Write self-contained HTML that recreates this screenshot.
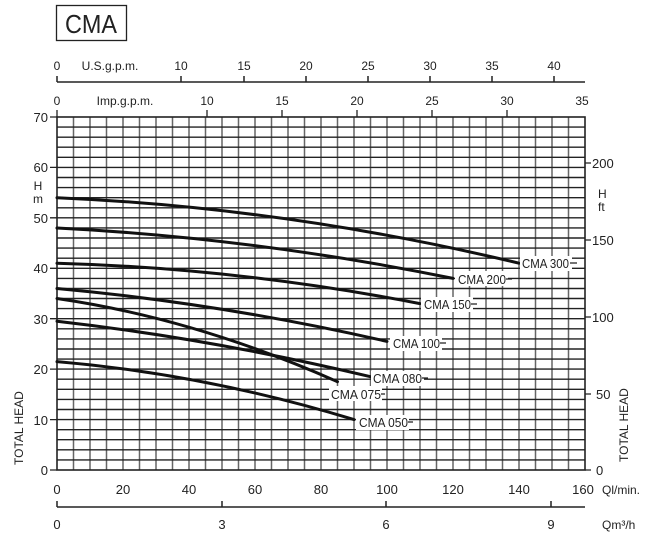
<!DOCTYPE html>
<html><head><meta charset="utf-8"><style>
html,body{margin:0;padding:0;background:#fff;}
svg{display:block;font-family:"Liberation Sans",sans-serif;}
</style></head><body>
<svg width="649" height="536" viewBox="0 0 649 536" xmlns="http://www.w3.org/2000/svg">
<rect x="56.5" y="5.5" width="70" height="35" fill="none" stroke="#222" stroke-width="1.3"/>
<text x="91" y="33" font-size="26" text-anchor="middle" fill="#222" textLength="52" lengthAdjust="spacingAndGlyphs">CMA</text>
<!-- US gpm axis -->
<path d="M57 82H585M57 76V82M181 76V82M244 76V82M306 76V82M368 76V82M430 76V82M492 76V82M554 76V82" stroke="#222" stroke-width="1.5" fill="none"/>
<g font-size="12" fill="#222" text-anchor="middle">
<text x="57" y="70">0</text><text x="110" y="70">U.S.g.p.m.</text><text x="181" y="70">10</text><text x="244" y="70">15</text><text x="306" y="70">20</text><text x="368" y="70">25</text><text x="430" y="70">30</text><text x="492" y="70">35</text><text x="554" y="70">40</text>
<text x="57" y="105">0</text><text x="125" y="105">Imp.g.p.m.</text><text x="207" y="105">10</text><text x="282" y="105">15</text><text x="357" y="105">20</text><text x="432" y="105">25</text><text x="507" y="105">30</text><text x="582" y="105">35</text>
</g>
<path d="M57 110V117M207 110V117M282 110V117M357 110V117M432 110V117M507 110V117" stroke="#222" stroke-width="1.3"/>
<!-- grid vertical -->
<g stroke="#666" stroke-width="1.5">
<path d="M73.5 117V470M90 117V470M106.5 117V470M123 117V470M139.5 117V470M156 117V470M172.5 117V470M189 117V470M205.5 117V470M222 117V470M238.5 117V470M255 117V470M271.5 117V470M288 117V470M304.5 117V470M321 117V470M337.5 117V470M354 117V470M370.5 117V470M387 117V470M403.5 117V470M420 117V470M436.5 117V470M453 117V470M469.5 117V470M486 117V470M502.5 117V470M519 117V470M535.5 117V470M552 117V470M568.5 117V470"/>
</g>
<g stroke="#222" stroke-width="1.4">
<path d="M57 459.9H585M57 449.8H585M57 439.7H585M57 429.7H585M57 419.6H585M57 409.5H585M57 399.4H585M57 389.3H585M57 379.2H585M57 369.1H585M57 359.1H585M57 349H585M57 338.9H585M57 328.8H585M57 318.7H585M57 308.6H585M57 298.5H585M57 288.5H585M57 278.4H585M57 268.3H585M57 258.2H585M57 248.1H585M57 238H585M57 227.9H585M57 217.8H585M57 207.8H585M57 197.7H585M57 187.6H585M57 177.5H585M57 167.4H585M57 157.3H585M57 147.2H585M57 137.2H585M57 127.1H585"/>
</g>
<rect x="57" y="117" width="528" height="353" fill="none" stroke="#222" stroke-width="1.6"/>
<!-- left ticks -->
<path d="M50 117H57M50 167.4H57M50 217.8H57M50 268.3H57M50 318.7H57M50 369.1H57M50 419.6H57M50 470H57" stroke="#222" stroke-width="1.3"/>
<g font-size="13" fill="#222" text-anchor="end">
<text x="48" y="122">70</text><text x="48" y="172">60</text><text x="48" y="223">50</text><text x="48" y="273">40</text><text x="48" y="324">30</text><text x="48" y="374">20</text><text x="48" y="425">10</text><text x="48" y="475">0</text>
</g>
<text x="38" y="190" font-size="12" text-anchor="middle" fill="#222">H</text>
<text x="38" y="203" font-size="12" text-anchor="middle" fill="#222">m</text>
<text transform="translate(23,465) rotate(-90)" font-size="12" fill="#222">TOTAL HEAD</text>
<!-- right ticks -->
<path d="M585 163H591M585 240H591M585 317H591M585 394H591M585 470H591" stroke="#222" stroke-width="1.3"/>
<g font-size="13" fill="#222">
<text x="592" y="168">200</text><text x="592" y="245">150</text><text x="592" y="322">100</text><text x="596" y="399">50</text><text x="596" y="475">0</text>
</g>
<text x="598" y="198" font-size="12" fill="#222">H</text>
<text x="598" y="211" font-size="12" fill="#222">ft</text>
<text transform="translate(628,462) rotate(-90)" font-size="12" fill="#222">TOTAL HEAD</text>
<!-- bottom l/min labels -->
<g font-size="13" fill="#222" text-anchor="middle">
<text x="57" y="494">0</text><text x="123" y="494">20</text><text x="189" y="494">40</text><text x="255" y="494">60</text><text x="321" y="494">80</text><text x="387" y="494">100</text><text x="453" y="494">120</text><text x="519" y="494">140</text><text x="583" y="494">160</text>
</g>
<text x="602" y="494" font-size="12" fill="#222">Ql/min.</text>
<path d="M57 507H585M57 501V507M222 501V507M386 501V507M551 501V507" stroke="#222" stroke-width="1.5" fill="none"/>
<g font-size="13" fill="#222" text-anchor="middle">
<text x="57" y="529">0</text><text x="222" y="529">3</text><text x="386" y="529">6</text><text x="551" y="529">9</text>
</g>
<text x="602" y="529" font-size="12" fill="#222">Qm³/h</text>
<!-- curves -->
<g stroke="#111" stroke-width="3" fill="none" stroke-linecap="round">
<path d="M57 197.7Q288 207.8 519 263.2"/>
<path d="M57 228Q255 238 453 278.4"/>
<path d="M57 263.2Q238.5 268.3 420 303.6"/>
<path d="M57 288.5Q222 303.6 387 341.4"/>
<path d="M57 298.5Q195.6 318.7 337.5 381.7"/>
<path d="M57 321.2Q212 338.9 370.5 376.7"/>
<path d="M57 361.6Q205.5 374.2 354 419.6"/>
</g>
<!-- labels -->
<g fill="#fff">
<rect x="520" y="256" width="52" height="15"/>
<rect x="455" y="271" width="53" height="15"/>
<rect x="421" y="297" width="52" height="15"/>
<rect x="390" y="336" width="52" height="15"/>
<rect x="371" y="371" width="53" height="15"/>
<rect x="329" y="386" width="53" height="15"/>
<rect x="356" y="415" width="53" height="15"/>
</g>
<g stroke="#222" stroke-width="1.2">
<path d="M570 263H577M506 279H512M471 304H477M440 343H446M422 378H428M381 394H385M408 422H413"/>
</g>
<g font-size="12.5" fill="#222">
<text x="522" y="268" textLength="47" lengthAdjust="spacingAndGlyphs">CMA 300</text>
<text x="458" y="284" textLength="48" lengthAdjust="spacingAndGlyphs">CMA 200</text>
<text x="424" y="309" textLength="47" lengthAdjust="spacingAndGlyphs">CMA 150</text>
<text x="393" y="348" textLength="47" lengthAdjust="spacingAndGlyphs">CMA 100</text>
<text x="373" y="383" textLength="49" lengthAdjust="spacingAndGlyphs">CMA 080</text>
<text x="331" y="399" textLength="50" lengthAdjust="spacingAndGlyphs">CMA 075</text>
<text x="359" y="427" textLength="49" lengthAdjust="spacingAndGlyphs">CMA 050</text>
</g>
</svg>
</body></html>
